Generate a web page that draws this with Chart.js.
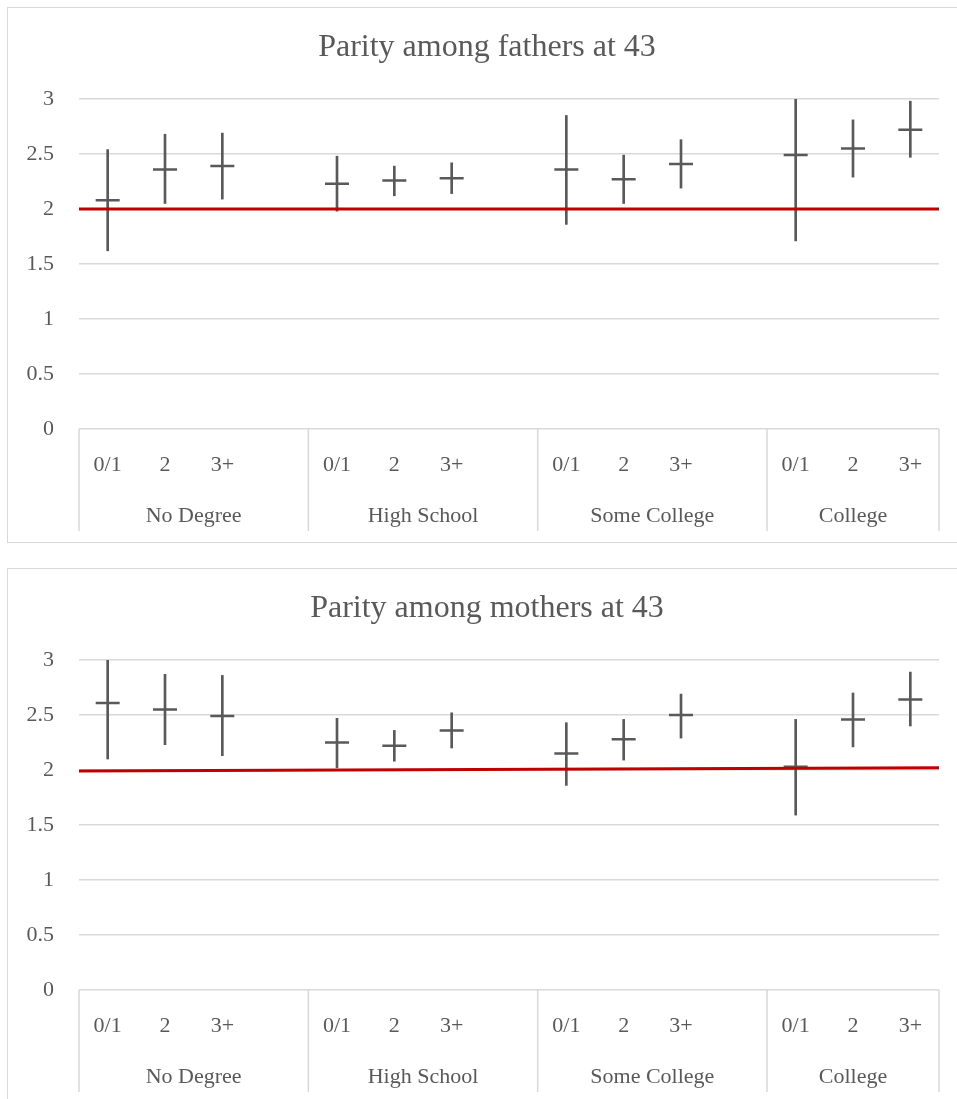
<!DOCTYPE html>
<html>
<head>
<meta charset="utf-8">
<script src="https://cdn.jsdelivr.net/npm/chart.js@4.4.1/dist/chart.umd.min.js"></script>
<style>
  html, body { margin: 0; padding: 0; background: #fff; overflow: hidden; }
  .panel { position: absolute; left: 7px; border: 1px solid #d9d9d9; background: #fff; }
  #top { top: 7px; }
  #bottom { top: 568px; }
  canvas { display: block; }
</style>
</head>
<body>
<div class="panel" id="top"><canvas id="fathers" width="958" height="534"></canvas></div>
<div class="panel" id="bottom"><canvas id="mothers" width="958" height="534"></canvas></div>
<script>
// categories (blank slot separates the education groups)
const categories = ["0/1", "2", "3+", "", "0/1", "2", "3+", "", "0/1", "2", "3+", "", "0/1", "2", "3+"];
const groups = ["No Degree", "High School", "Some College", "College"];
const groupStarts = [0, 4, 8, 12];
const yTicks = [0, 0.5, 1, 1.5, 2, 2.5, 3];

// fathers
const fathersMean = [2.08, 2.36, 2.39, null, 2.23, 2.26, 2.28, null, 2.36, 2.27, 2.41, null, 2.49, 2.55, 2.72];
const fathersLow = [1.62, 2.05, 2.09, null, 1.98, 2.12, 2.14, null, 1.86, 2.05, 2.19, null, 1.71, 2.29, 2.47];
const fathersHigh = [2.54, 2.68, 2.69, null, 2.48, 2.39, 2.42, null, 2.85, 2.49, 2.63, null, 3.0, 2.81, 2.98];
const fathersRef = [2.0, 2.0];

// mothers
const mothersMean = [2.61, 2.55, 2.49, null, 2.25, 2.22, 2.36, null, 2.15, 2.28, 2.5, null, 2.03, 2.46, 2.64];
const mothersLow = [2.1, 2.23, 2.13, null, 2.02, 2.08, 2.2, null, 1.86, 2.09, 2.29, null, 1.59, 2.21, 2.4];
const mothersHigh = [3.0, 2.87, 2.86, null, 2.47, 2.36, 2.52, null, 2.43, 2.46, 2.69, null, 2.46, 2.7, 2.89];
const mothersRef = [1.99, 2.02];

const TEXT = "#595959";
const GRID = "#d9d9d9";
const MARK = "#595959";
const RED = "#c00000";
const FONT = "'Liberation Serif', 'DejaVu Serif', serif";
const LABEL_SIZE = 22;

// draws the second label row (education groups) and the separators
const groupAxisPlugin = {
  id: "groupAxis",
  afterDraw(chart) {
    const { ctx, chartArea } = chart;
    const x = chart.scales.x;
    const half = (x.getPixelForValue(1) - x.getPixelForValue(0)) / 2;
    const top = chartArea.bottom;
    const bottom = top + 102;
    ctx.save();
    ctx.strokeStyle = GRID;
    ctx.lineWidth = 1.5;
    ctx.fillStyle = TEXT;
    ctx.font = `${LABEL_SIZE}px ${FONT}`;
    ctx.textAlign = "center";
    ctx.textBaseline = "middle";
    groupStarts.forEach((start, g) => {
      const end = g + 1 < groupStarts.length ? groupStarts[g + 1] : categories.length;
      const left = x.getPixelForValue(start) - half;
      const right = x.getPixelForValue(end - 1) + half;
      ctx.beginPath();
      ctx.moveTo(left, top);
      ctx.lineTo(left, bottom);
      ctx.stroke();
      ctx.fillText(groups[g], (left + right) / 2, top + 87);
    });
    const last = x.getPixelForValue(categories.length - 1) + half;
    ctx.beginPath();
    ctx.moveTo(last, top);
    ctx.lineTo(last, bottom);
    ctx.stroke();
    ctx.restore();
  },
};

function createParityChart(canvas, title, means, lows, highs, ref) {
  const ranges = lows.map((low, i) => (low == null ? null : [low, highs[i]]));
  return new Chart(canvas, {
    data: {
      labels: categories,
      datasets: [
        {
          type: "line",
          data: [
            { x: 0, y: ref[0] },
            { x: 1, y: ref[1] },
          ],
          xAxisID: "x2",
          borderColor: RED,
          borderWidth: 3,
          pointRadius: 0,
          order: 0,
        },
        {
          type: "line",
          data: means,
          showLine: false,
          pointStyle: "line",
          pointRadius: 12,
          pointHoverRadius: 12,
          pointBorderWidth: 2.5,
          pointBorderColor: MARK,
          order: 1,
        },
        {
          type: "bar",
          data: ranges,
          barThickness: 2,
          grouped: false,
          backgroundColor: MARK,
          order: 2,
        },
      ],
    },
    options: {
      responsive: false,
      animation: false,
      layout: { padding: 0 },
      plugins: {
        legend: { display: false },
        tooltip: { enabled: false },
        title: {
          display: true,
          text: title,
          color: TEXT,
          font: { family: FONT, size: 32, weight: "normal", lineHeight: 1.2 },
          padding: { top: 20, bottom: 32.6 },
        },
      },
      scales: {
        x: {
          type: "category",
          offset: true,
          grid: { display: false },
          border: { display: false },
          ticks: {
            color: TEXT,
            font: { family: FONT, size: LABEL_SIZE },
            padding: 15,
            maxRotation: 0,
            autoSkip: false,
          },
          afterFit: (scale) => {
            scale.height = 113;
          },
        },
        x2: {
          type: "linear",
          display: false,
          min: 0,
          max: 1,
          offset: false,
        },
        y: {
          min: 0,
          max: 3,
          afterBuildTicks: (scale) => {
            scale.ticks = yTicks.map((value) => ({ value }));
          },
          grid: { color: GRID, lineWidth: 1.5, drawTicks: false },
          border: { display: false },
          ticks: {
            color: TEXT,
            font: { family: FONT, size: LABEL_SIZE },
            padding: 25,
            callback: (value) => String(value),
          },
          afterFit: (scale) => {
            scale.width = 71;
          },
        },
        // empty right-hand margin so the title centres on the whole box
        yRight: {
          position: "right",
          grid: { display: false },
          border: { display: false },
          ticks: { display: false },
          afterFit: (scale) => {
            scale.width = 27;
          },
        },
      },
    },
    plugins: [groupAxisPlugin],
  });
}

createParityChart(document.getElementById("fathers"), "Parity among fathers at 43",
  fathersMean, fathersLow, fathersHigh, fathersRef);
createParityChart(document.getElementById("mothers"), "Parity among mothers at 43",
  mothersMean, mothersLow, mothersHigh, mothersRef);
</script>
</body>
</html>
